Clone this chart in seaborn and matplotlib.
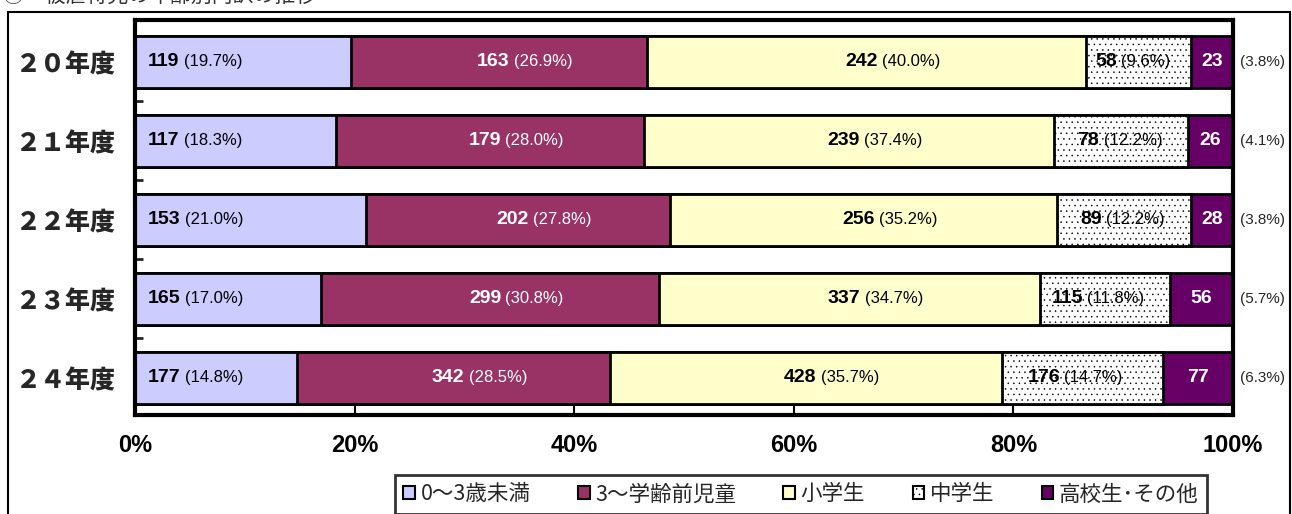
import matplotlib
matplotlib.use("Agg")
import matplotlib.pyplot as plt
import seaborn as sns
import numpy as np
from matplotlib.patches import Patch, Rectangle

# ========= data =========
years = ["２０年度", "２１年度", "２２年度", "２３年度", "２４年度"]
groups = ["0～3歳未満", "3～学齢前児童", "小学生", "中学生", "高校生･その他"]
age_0_3 = [119, 117, 153, 165, 177]
preschool = [163, 179, 202, 299, 342]
elementary = [242, 239, 256, 337, 428]
junior_high = [58, 78, 89, 115, 176]
high_school = [23, 26, 28, 56, 77]

pct_0_3 = ["19.7%", "18.3%", "21.0%", "17.0%", "14.8%"]
pct_preschool = ["26.9%", "28.0%", "27.8%", "30.8%", "28.5%"]
pct_elementary = ["40.0%", "37.4%", "35.2%", "34.7%", "35.7%"]
pct_junior_high = ["9.6%", "12.2%", "12.2%", "11.8%", "14.7%"]
pct_high_school = ["3.8%", "4.1%", "3.8%", "5.7%", "6.3%"]

colors = ["#CCCCFF", "#993366", "#FFFFCC", "#FFFFFF", "#660066"]
hatches = [None, None, None, "...", None]

# ========= style =========
sns.set_theme(style="white")
plt.rcParams["font.family"] = ["Noto Sans CJK JP", "DejaVu Sans"]
plt.rcParams["hatch.linewidth"] = 0.35
NARROW = ["Liberation Sans Narrow", "Liberation Sans", "DejaVu Sans"]

counts = np.array([age_0_3, preschool, elementary, junior_high, high_school], dtype=float)
share = counts / counts.sum(axis=0) * 100
cum = np.cumsum(share, axis=0)
lefts = cum - share

fig = plt.figure(figsize=(12.92, 5.14), dpi=100)
ax = fig.add_axes([135 / 1292, 1 - 415 / 514, 1098 / 1292, 395 / 514])

# stacked bars: draw the widest cumulative layer first, narrower on top
for i in range(4, -1, -1):
    sns.barplot(x=cum[i], y=years, orient="h", color=colors[i],
                edgecolor="black", linewidth=2, width=0.65,
                saturation=1, ax=ax)
    if hatches[i]:
        for p in ax.containers[-1]:
            p.set_hatch(hatches[i])

ax.set_xlim(0, 100)
ax.set_ylim(4.47, -0.53)
ax.set_xlabel("")
ax.set_ylabel("")

for s in ax.spines.values():
    s.set_visible(True)
    s.set_color("black")
    s.set_linewidth(3)

ax.set_xticks([0, 20, 40, 60, 80, 100])
ax.set_xticklabels(["0%", "20%", "40%", "60%", "80%", "100%"],
                   family=NARROW, fontweight="bold", fontsize=17)
ax.tick_params(axis="x", direction="in", length=7, width=1.5, pad=14,
               bottom=True, colors="black")
ax.set_yticks(range(5))
ax.set_yticklabels(years, fontweight="heavy", fontsize=18)
ax.tick_params(axis="y", length=0, pad=14)
ax.set_yticks([0.5, 1.5, 2.5, 3.5], minor=True)
ax.tick_params(axis="y", which="minor", direction="in", length=6, width=2, left=True)

# ========= value labels =========
pcts = [pct_0_3, pct_preschool, pct_elementary, pct_junior_high, pct_high_school]
txt_colors = ["black", "white", "black", "black", "white"]
for i in range(5):
    for j in range(5):
        n = str(int(counts[i, j]))
        c = txt_colors[i]
        centre = lefts[i, j] + share[i, j] / 2
        if i == 4:
            ax.text(centre, j, n, ha="center", va="center", color="white",
                    family=NARROW, fontweight="bold", fontsize=14)
            ax.text(100.6, j, f"({pcts[i][j]})", ha="left", va="center",
                    family=NARROW, fontsize=11, clip_on=False)
            continue
        if i == 0:
            t = ax.text(lefts[i, j] + 1.2, j, n, ha="left", va="center", color=c,
                        family=NARROW, fontweight="bold", fontsize=14)
        elif i == 3:
            t = ax.text(centre - 2.0, j, n, ha="right", va="center", color=c,
                        family=NARROW, fontweight="bold", fontsize=14)
        else:
            t = ax.text(centre + 1.0, j, n, ha="right", va="center", color=c,
                        family=NARROW, fontweight="bold", fontsize=14)
        ax.annotate(f"({pcts[i][j]})", xy=(1, 0.5), xycoords=t,
                    xytext=(3, 0), textcoords="offset points",
                    ha="left", va="center", color=c, family=NARROW, fontsize=12)

# ========= legend =========
handles = [Patch(facecolor=colors[k], edgecolor="black", linewidth=1.5,
                 hatch=hatches[k]) for k in range(5)]
leg = fig.legend(handles, groups, ncol=5, loc="upper center",
                 bbox_to_anchor=(801 / 1292, 1 - 464 / 514),
                 fontsize=15.5, frameon=True, fancybox=False,
                 handlelength=0.55, handleheight=0.55, handletextpad=0.25,
                 columnspacing=2.2, borderpad=0.4)
leg.get_frame().set_edgecolor("black")
leg.get_frame().set_linewidth(2)

# outer frame and cut-off heading
fig.add_artist(Rectangle((8 / 1292, -0.05), 1282 / 1292, 1.05 - 12 / 514,
                         transform=fig.transFigure, fill=False,
                         edgecolor="black", linewidth=1.5))
fig.text(0.002, 1 - 8 / 514, "④　被虐待児の年齢別内訳の推移", ha="left", va="bottom",
         fontsize=15, color="#333333")

fig.savefig("out.png", dpi=100)
